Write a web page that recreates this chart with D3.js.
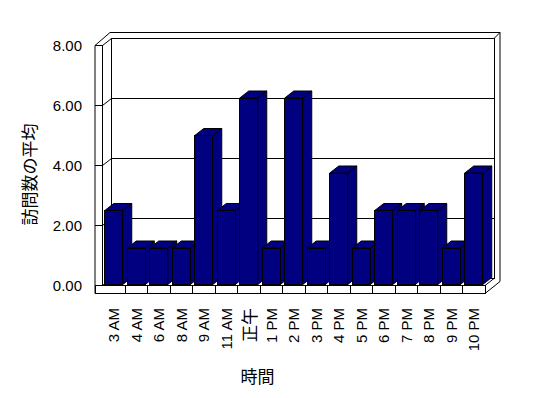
<!DOCTYPE html>
<html><head><meta charset="utf-8">
<script src="https://cdn.jsdelivr.net/npm/d3@7/dist/d3.min.js"></script>
<style>body{margin:0;background:#fff}svg{display:block}</style>
</head><body>
<script>
const categories = ["3 AM","4 AM","6 AM","8 AM","9 AM","11 AM","正午","1 PM","2 PM","3 PM","4 PM","5 PM","6 PM","7 PM","8 PM","9 PM","10 PM"];
const values = [2.5,1.25,1.25,1.25,5,2.5,6.25,1.25,6.25,1.25,3.75,1.25,2.5,2.5,2.5,1.25,3.75];
const yTicks = [0,2,4,6,8];
const yTitle = "訪問数の平均";
const xTitle = "時間";

const W = 548, H = 398;
const svg = d3.select("body").append("svg").attr("width", W).attr("height", H);
const x = d3.scaleBand().domain(categories).range([102.5, 485]).padding(0);
const y = d3.scaleLinear().domain([0, 8]).range([285.5, 45.5]);
const dx = 9, dy = -7;          // depth offset of the plot
const ox = 15, oy = -13;        // outer wall offset
const x0 = x.range()[0], x1 = x.range()[1];
const floorBottom = 293.5;
const g = svg.append("g").attr("fill", "none").attr("stroke", "#000").attr("stroke-width", 1);

// back wall inner face
g.append("rect").attr("x", x0 + dx).attr("y", y(8) + dy).attr("width", x1 - x0).attr("height", y(0) - y(8)).attr("fill", "#fff").attr("shape-rendering", "crispEdges");
// back gridlines + left wall diagonals
yTicks.forEach(t => {
  g.append("line").attr("x1", x0 + dx).attr("x2", x1 + dx).attr("y1", y(t) + dy).attr("y2", y(t) + dy).attr("shape-rendering", "crispEdges");
  g.append("line").attr("x1", x0).attr("x2", x0 + dx).attr("y1", y(t)).attr("y2", y(t) + dy);
});
// outer frame of walls
const lx = 95;
g.append("path").attr("d", `M${lx},${floorBottom}V${y(8)}L${lx + ox},${y(8) + oy}H${x1 + ox}V${y(0) - 4}`);
g.append("line").attr("x1", x1 + dx).attr("y1", y(8) + dy).attr("x2", x1 + ox).attr("y2", y(8) + oy);
// front axis line
g.append("line").attr("x1", x0).attr("x2", x0).attr("y1", y(8)).attr("y2", y(0)).attr("shape-rendering", "crispEdges");
// ticks
yTicks.forEach(t => {
  g.append("line").attr("x1", lx).attr("x2", x0).attr("y1", y(t)).attr("y2", y(t)).attr("shape-rendering", "crispEdges");
});
// floor
g.append("rect").attr("x", lx).attr("y", y(0)).attr("width", x1 - lx).attr("height", floorBottom - y(0)).attr("fill", "#fff").attr("shape-rendering", "crispEdges");
g.append("line").attr("x1", x1).attr("y1", y(0)).attr("x2", x1 + dx).attr("y2", y(0) + dy);
g.append("line").attr("x1", x1).attr("y1", floorBottom).attr("x2", x1 + ox).attr("y2", y(0) - 4);
categories.slice(1).forEach(c => {
  g.append("line").attr("x1", x(c)).attr("x2", x(c)).attr("y1", y(0)).attr("y2", floorBottom).attr("shape-rendering", "crispEdges");
});

// bars
const bw = x.bandwidth() * 0.8;
const bars = svg.append("g").attr("fill", "#000080").attr("stroke", "#000").attr("stroke-width", 1).attr("stroke-linejoin", "round");
categories.forEach((c, i) => {
  const bx = x(c) + (x.bandwidth() - bw) / 2;
  const top = y(values[i]), bot = y(0) - 1;
  // side
  bars.append("path").attr("d", `M${bx + bw},${bot}L${bx + bw + dx},${bot + dy}V${top + dy}L${bx + bw},${top}Z`);
  // top
  bars.append("path").attr("d", `M${bx},${top}L${bx + dx},${top + dy}H${bx + bw + dx}L${bx + bw},${top}Z`);
  // front
  bars.append("rect").attr("x", bx).attr("y", top).attr("width", bw).attr("height", bot - top).attr("shape-rendering", "crispEdges");
});

// y tick labels
svg.append("g").selectAll("text").data(yTicks).join("text")
  .attr("x", 82).attr("y", d => y(d)).attr("text-anchor", "end").attr("dominant-baseline", "central")
  .attr("font-family", "Liberation Sans, Arial, sans-serif").attr("font-size", 15).attr("fill", "#000")
  .text(d => d.toFixed(2));

// x tick labels
svg.append("g").selectAll("text").data(categories).join("text")
  .attr("transform", d => `translate(${x(d) + x.bandwidth() / 2},308) rotate(-90)`)
  .attr("text-anchor", "end").attr("dominant-baseline", "central")
  .attr("font-family", d => /[\u3000-\u9fff]/.test(d) ? "Noto Sans CJK JP" : "Liberation Sans, Arial, sans-serif")
  .attr("font-size", d => /[\u3000-\u9fff]/.test(d) ? 17 : 15).attr("fill", "#000")
  .text(d => d);

// titles
svg.append("text").attr("transform", "translate(28,174.5) rotate(-90)")
  .attr("text-anchor", "middle").attr("dominant-baseline", "central")
  .attr("font-family", "Noto Sans CJK JP").attr("font-size", 17).text(yTitle);
svg.append("text").attr("x", 257.5).attr("y", 375.5)
  .attr("text-anchor", "middle").attr("dominant-baseline", "central")
  .attr("font-family", "Noto Sans CJK JP").attr("font-size", 17).text(xTitle);
</script>
</body></html>
